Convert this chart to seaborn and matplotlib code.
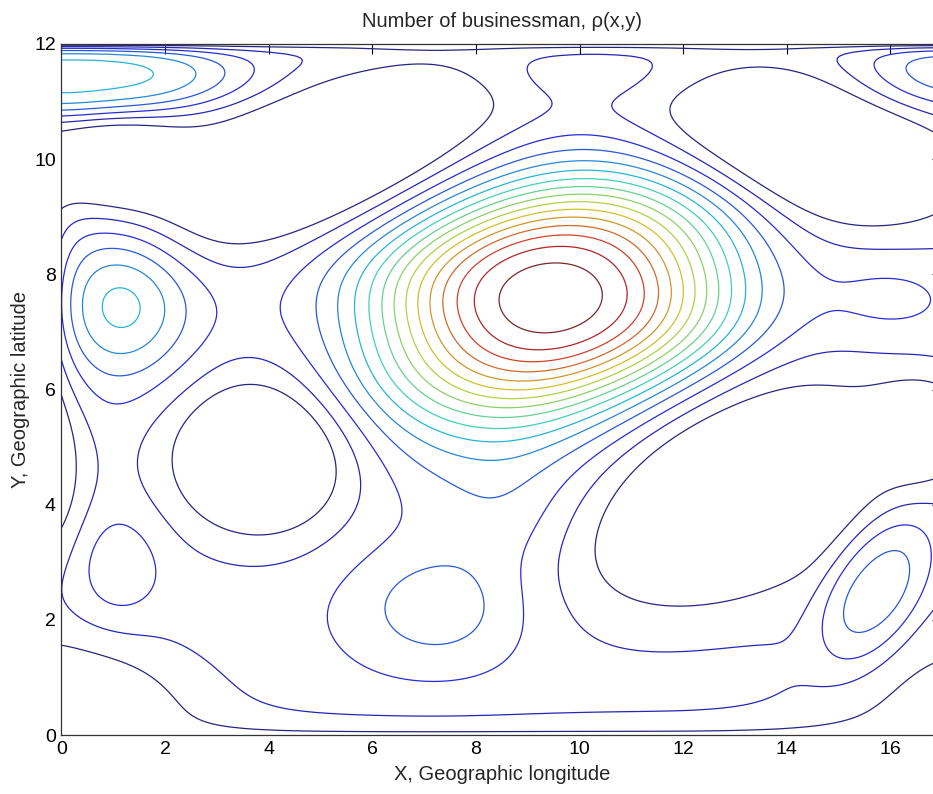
import numpy as np
import pandas as pd
import matplotlib
matplotlib.use("Agg")
import matplotlib.pyplot as plt
import seaborn as sns

# ---- data: bumps (peaks) -----------------------------------------------
#            A      B     C     D     E      F      G      H      I     J     K
peak_x = [9.45, 1.15, 1.10, 7.30, 15.70, 0.00, 17.00, 10.10, 16.00, 8.70, 8.70]
peak_y = [7.60, 7.55, 2.90, 2.20, 2.50, 11.45, 11.50, 11.50, 7.60, 3.70, 4.80]
peak_amp = [13.9, 3.95, 1.3, 2.0, 2.6, 3.9, 2.5, 0.8, 0.9, 0.7, 1.15]
peak_sx = [2.35, 0.95, 0.55, 1.20, 1.05, 2.33, 1.20, 1.40, 0.90, 0.90, 1.80]
peak_sy = [1.41, 0.95, 0.62, 0.76, 0.62, 0.50, 0.50, 0.35, 0.55, 0.70, 0.90]
peak_rot = [3, 0, 0, 0, 58, 0, 0, 0, 0, 0, 0]
peak_shear = [0.36, 0, 0, 0, 0, 0, 0, 0, 0, 0, 0]
peak_shear_reach = [1.3, 1, 1, 1, 1, 1, 1, 1, 1, 1, 1]
peak_pow = [1.3, 1, 1, 1, 1.5, 1.78, 1, 1, 1, 1, 1]

# ---- data: hollows (low cells) ------------------------------------------
#           LL     UL1    UL2   UR     LR     LR2    LE     BL     BR    LS
cell_x = [3.83, 5.00, 0.90, 14.40, 13.00, 16.70, -0.40, -0.30, 17.80, -0.60]
cell_y = [4.83, 10.05, 9.95, 10.20, 4.20, 5.30, 4.60, 0.30, 0.00, 7.50]
cell_amp = [4.3, 4.8, 3.4, 4.6, 4.4, 2.5, 3.0, 3.6, 2.5, 3.0]
cell_sx = [1.26, 2.50, 1.10, 2.20, 2.30, 0.70, 0.60, 2.00, 2.20, 0.45]
cell_sy = [1.00, 0.85, 0.60, 0.95, 1.25, 0.60, 1.20, 1.00, 1.60, 1.60]
cell_rot = [0, 18, 0, -10, 20, 0, 0, 0, 0, 0]

base_level = 2.7
levels = list(range(1, 17))
x_ticks = [0, 2, 4, 6, 8, 10, 12, 14, 16]
y_ticks = [0, 2, 4, 6, 8, 10, 12]

peaks = pd.DataFrame(dict(x=peak_x, y=peak_y, amp=peak_amp, sx=peak_sx,
                          sy=peak_sy, rot=peak_rot, k=peak_shear,
                          ks=peak_shear_reach, p=peak_pow))
cells = pd.DataFrame(dict(x=cell_x, y=cell_y, amp=cell_amp, sx=cell_sx,
                          sy=cell_sy, rot=cell_rot))
cells["k"] = 0.0
cells["ks"] = 1.0
cells["p"] = 1.0


def bump(X, Y, r):
    th = np.deg2rad(r.rot)
    c, s = np.cos(th), np.sin(th)
    dy = Y - r.y
    dx = X - r.x - r.k * dy * (1 - np.exp(-(dy / r.ks) ** 2))
    u = (c * dx + s * dy) / r.sx
    v = (-s * dx + c * dy) / r.sy
    q = 0.5 * (u * u + v * v)
    return np.exp(-q ** r.p)


gx = np.linspace(0, 17, 440)
gy = np.linspace(0, 12, 340)
X, Y = np.meshgrid(gx, gy)
Z = np.full_like(X, base_level)
for r in peaks.itertuples():
    Z += r.amp * bump(X, Y, r)
for r in cells.itertuples():
    Z -= r.amp * bump(X, Y, r)
Z *= 1 - 0.75 * np.exp(-Y / 0.33)
Z *= 1 - np.exp(-(12 - Y) / 0.1)

sns.set_theme(style="white")
plt.rcParams["font.family"] = ["Liberation Sans", "DejaVu Sans"]

jet = matplotlib.colormaps["jet"]
grey = np.array([0.45, 0.45, 0.5])
line_colors = [tuple(0.67 * np.array(jet(i / (len(levels) - 1))[:3]) + 0.33 * grey)
               for i in range(len(levels))]

fig = plt.figure(figsize=(9.33, 7.94), dpi=100)
ax = fig.add_axes([61.5 / 933, 59 / 794, (942.3 - 61.5) / 933, 691 / 794])
ax.contour(X, Y, Z, levels=levels, colors=line_colors, linewidths=0.9)
ax.set_xlim(0, 17)
ax.set_ylim(0, 12)
ax.set_xticks(x_ticks)
ax.set_yticks(y_ticks)
ax.tick_params(direction="in", length=7, width=0.8, top=True, right=True,
               labelsize=14, colors="black", pad=4)
for sp in ax.spines.values():
    sp.set_color("#333333")
    sp.set_linewidth(0.9)
ax.set_title("Number of businessman, ρ(x,y)", fontsize=14.5, pad=12)
ax.set_xlabel("X, Geographic longitude", fontsize=14.5, labelpad=5)
ax.set_ylabel("Y, Geographic latitude", fontsize=14.5, labelpad=3)
fig.savefig("out.png", dpi=100, facecolor="white")
